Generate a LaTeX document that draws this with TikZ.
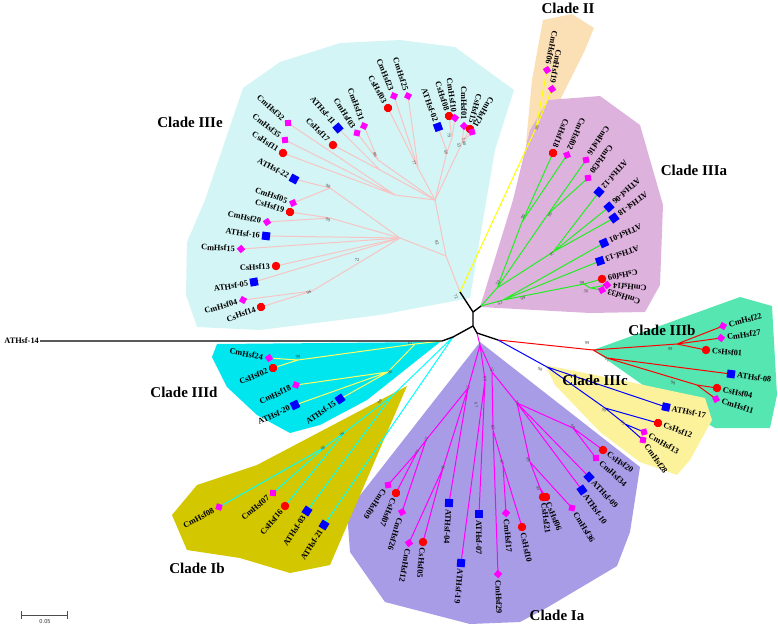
\documentclass[tikz,border=0pt]{standalone}
\usepackage{fontspec}
\setmainfont{Liberation Serif}
\definecolor{bgE}{HTML}{D4F5F5}
\definecolor{bgII}{HTML}{FBE0B6}
\definecolor{bgIIIa}{HTML}{DDB2DD}
\definecolor{bgIIIb}{HTML}{55E6B1}
\definecolor{bgIIIc}{HTML}{FCF29C}
\definecolor{bgIa}{HTML}{A99CE6}
\definecolor{bgIb}{HTML}{D3C700}
\definecolor{bgIIId}{HTML}{00E6EF}
\definecolor{cE}{HTML}{F7C4C4}
\definecolor{cII}{HTML}{FFFF00}
\definecolor{cIIIa}{HTML}{22EE22}
\definecolor{cIIIb}{HTML}{FF0000}
\definecolor{cIIIc}{HTML}{0000FF}
\definecolor{cIa}{HTML}{FF00FF}
\definecolor{cIb}{HTML}{00FFFF}
\definecolor{cIIId}{HTML}{FFFF66}
\definecolor{mkM}{HTML}{FF00FF}
\definecolor{mkR}{HTML}{FF0000}
\definecolor{mkB}{HTML}{0000FF}
\newcommand\mkI[4]{\node[#2,rotate=#3] (m#1) at (#1) {};\node[lbl,rotate=#3+180,anchor=east] (t#1) at (#1) {#4};}
\newcommand\mkO[4]{\node[#2,rotate=#3] (m#1) at (#1) {};\node[lbl,rotate=#3,anchor=west] (t#1) at (#1) {#4};}
\newcommand\bsv[4]{\node[bs,rotate=#3] at (#1,#2) {#4};}
\begin{document}
\begin{tikzpicture}[x=1pt,y=-1pt,
  mg/.style={rectangle,fill=mkM,minimum size=6pt,inner sep=0pt,rotate=45},
  rd/.style={circle,fill=mkR,minimum size=8.5pt,inner sep=0pt},
  bl/.style={rectangle,fill=mkB,minimum size=8pt,inner sep=0pt},
  lbl/.style={font=\fontsize{8.3}{9}\selectfont\bfseries,inner xsep=6pt,inner ysep=0pt},
  bs/.style={font=\fontsize{4.5}{5}\selectfont,text=black!75,inner sep=0pt},
  clade/.style={font=\fontsize{15}{16}\selectfont\bfseries,inner sep=0pt},
  br/.style={line width=1pt},
  blk/.style={line width=1.4pt,black}]
\useasboundingbox (0,0) rectangle (778,627);
% ---------- backgrounds
\fill[bgE] (197,327) -- (186,295) -- (187,242) -- (205,200) -- (243,88) -- (280,62) -- (340,43) -- (400,40) -- (455,47) -- (514,90) -- (495,150) -- (483,220) -- (470,298) -- (380,315) -- (260,330) -- cycle;
\fill[bgII] (543,20) -- (572,14) -- (594,28) -- (585,50) -- (560,100) -- (537,135) -- (526,143) -- (532,80) -- cycle;
\fill[bgIIIa] (480,307) -- (513,200) -- (530,130) -- (548,100) -- (600,96) -- (640,125) -- (663,205) -- (660,285) -- (645,312) -- (590,313) -- cycle;
\fill[bgIIIb] (593,350) -- (740,297) -- (772,306) -- (777,395) -- (770,428) -- (715,428) -- (650,390) -- cycle;
\fill[bgIIIc] (545,365) -- (620,380) -- (705,398) -- (712,420) -- (690,460) -- (677,475) -- (640,462) -- (600,432) -- (555,385) -- cycle;
\fill[bgIa] (480,342) -- (640,467) -- (630,532) -- (617,566) -- (548,607) -- (520,622) -- (470,624) -- (385,602) -- (350,552) -- (347,512) -- cycle;
\fill[bgIb] (407,386) -- (257,465) -- (197,485) -- (172,515) -- (187,550) -- (240,558) -- (290,573) -- (330,565) -- cycle;
\fill[bgIIId] (217,344) -- (440,342) -- (367,400) -- (320,425) -- (290,433) -- (257,415) -- (227,387) -- (212,357) -- cycle;
% ---------- internal nodes
\coordinate (c0) at (473,312); \coordinate (c1) at (473,326); \coordinate (c2) at (477,333);
\coordinate (c3) at (453,337); \coordinate (c4) at (442,341); \coordinate (c5) at (498,340);
\coordinate (eII) at (460,292); \coordinate (a14) at (40,341);
% IIIe
\coordinate (e1) at (446,256); \coordinate (e2) at (400,238); \coordinate (e3) at (312,291);
\coordinate (e4) at (330,218); \coordinate (e5) at (330,188); \coordinate (e6) at (435,200);
\coordinate (e7) at (395,195); \coordinate (e8) at (380,170); \coordinate (e9) at (378,160);
\coordinate (e10) at (418,168); \coordinate (e11) at (447,152); \coordinate (e12) at (452,138);
\coordinate (e13) at (462,143);
% II
\coordinate (f1) at (536,128);
% IIIa
\coordinate (g0) at (481,306); \coordinate (g1) at (497,288); \coordinate (g2) at (522,222);
\coordinate (g3) at (548,214); \coordinate (g4) at (553,252); \coordinate (g5) at (503,300);
\coordinate (g6) at (584,284); \coordinate (g7) at (590,288);
% IIIb
\coordinate (b0) at (593,350); \coordinate (b1) at (677,344); \coordinate (b2) at (607,358); \coordinate (b3) at (697,385);
% IIIc
\coordinate (k0) at (547,367); \coordinate (k1) at (605,408); \coordinate (k2) at (625,424);
% Ia
\coordinate (i0) at (480,345); \coordinate (i1) at (492,372); \coordinate (i2) at (517,403);
\coordinate (i3) at (573,428); \coordinate (i4) at (530,462); \coordinate (i5) at (540,488);
\coordinate (i6) at (493,430); \coordinate (i7) at (503,465); \coordinate (i8) at (485,380);
\coordinate (i9) at (468,388); \coordinate (i11) at (426,440); \coordinate (i12) at (417,452);
\coordinate (i13) at (443,468);
% Ib
\coordinate (j0) at (392,396); \coordinate (j1) at (345,432); \coordinate (j2) at (325,447);
% IIId
\coordinate (d0) at (415,344); \coordinate (d1) at (298,360); \coordinate (d2) at (388,372);
% ---------- leaves
\coordinate (CmHsf32) at (288,123); \coordinate (CmHsf35) at (285,140); \coordinate (CsHsf11) at (283,153);
\coordinate (ATHsf22) at (294,179); \coordinate (CmHsf05) at (293,203); \coordinate (CsHsf19) at (290,212);
\coordinate (CmHsf20) at (267,222); \coordinate (ATHsf16) at (266,236); \coordinate (CmHsf15) at (241,249);
\coordinate (CsHsf13) at (276,266); \coordinate (ATHsf05) at (254,282); \coordinate (CmHsf04) at (243,300);
\coordinate (CsHsf14) at (261,307); \coordinate (ATHsf11) at (338,128); \coordinate (CsHsf17) at (333,145);
\coordinate (CmHsf03) at (357,133); \coordinate (CmHsf31) at (364,126); \coordinate (CsHsf03) at (388,108);
\coordinate (CmHsf23) at (394,96); \coordinate (CmHsf25) at (408,96); \coordinate (ATHsf02) at (438,127);
\coordinate (CsHsf08) at (449,116); \coordinate (CmHsf10) at (455,118); \coordinate (CmHsf01) at (464,126);
\coordinate (CsHsf15) at (470,129); \coordinate (CmHsf21) at (472,132);
\coordinate (CmHsf06) at (547,70); \coordinate (CmHsf19) at (552,89);
\coordinate (CsHsf18) at (553,153); \coordinate (CmHsf02) at (567,155); \coordinate (CmHsf16) at (586,160);
\coordinate (CmHsf30) at (588,178); \coordinate (ATHsf12) at (599,192); \coordinate (ATHsf06) at (609,207);
\coordinate (ATHsf18) at (614,218); \coordinate (ATHsf01) at (604,243); \coordinate (ATHsf13) at (600,261);
\coordinate (CsHsf09) at (602,279); \coordinate (CmHsf14) at (607,285); \coordinate (CmHsf33) at (602,290);
\coordinate (CmHsf22) at (723,326); \coordinate (CmHsf27) at (721,338); \coordinate (CsHsf01) at (706,350);
\coordinate (ATHsf08) at (731,374); \coordinate (CsHsf04) at (717,388); \coordinate (CmHsf11) at (716,399);
\coordinate (ATHsf17) at (666,407); \coordinate (CsHsf12) at (658,423); \coordinate (CmHsf13) at (644,432);
\coordinate (CmHsf28) at (643,440);
\coordinate (CsHsf20) at (603,450); \coordinate (CmHsf34) at (596,458); \coordinate (ATHsf09) at (589,477);
\coordinate (ATHsf10) at (582,490); \coordinate (CmHsf36) at (572,508); \coordinate (CsHsf06) at (546,497);
\coordinate (CsHsf21) at (543,497); \coordinate (CsHsf10) at (522,527); \coordinate (CmHsf17) at (506,513);
\coordinate (CmHsf29) at (498,574); \coordinate (ATHsf07) at (479,514); \coordinate (ATHsf19) at (461,563);
\coordinate (ATHsf04) at (449,503); \coordinate (CsHsf05) at (423,542); \coordinate (CmHsf12) at (409,543);
\coordinate (CmHsf26) at (402,512); \coordinate (CsHsf07) at (396,493); \coordinate (CmHsf09) at (388,485);
\coordinate (CmHsf08) at (219,507); \coordinate (CmHsf07) at (273,493); \coordinate (CsHsf16) at (285,506);
\coordinate (ATHsf03) at (307,511); \coordinate (ATHsf21) at (324,525);
\coordinate (CmHsf24) at (269,358); \coordinate (CsHsf02) at (273,368); \coordinate (CmHsf18) at (296,385);
\coordinate (ATHsf20) at (295,405); \coordinate (ATHsf15) at (340,399);
% ---------- branches
\draw[br,cE] (eII) -- (e1) (e1) -- (e2) (e1) -- (e6);
\foreach \c in {e3,e4,e5,ATHsf16,CmHsf15,CsHsf13,ATHsf05} \draw[br,cE] (e2) -- (\c);
\draw[br,cE] (e3) -- (CmHsf04) (e3) -- (CsHsf14) (e4) -- (CsHsf19) (e4) -- (CmHsf20) (e5) -- (ATHsf22) (e5) -- (CmHsf05);
\foreach \c in {e7,e8,e9,e10,e11,e13} \draw[br,cE] (e6) -- (\c);
\draw[br,cE] (e7) -- (CmHsf32) (e7) -- (CmHsf35) (e7) -- (CsHsf11) (e8) -- (ATHsf11) (e8) -- (CsHsf17)
  (e9) -- (CmHsf03) (e9) -- (CmHsf31) (e10) -- (CsHsf03) (e10) -- (CmHsf23) (e10) -- (CmHsf25)
  (e11) -- (ATHsf02) (e11) -- (e12) (e12) -- (CsHsf08) (e12) -- (CmHsf10)
  (e13) -- (CmHsf01) (e13) -- (CsHsf15) (e13) -- (CmHsf21);
\draw[br,cII] (eII) -- (f1) (f1) -- (CmHsf06) (f1) -- (CmHsf19);
\draw[br,cIIIa] (g0) -- (g1) (g0) -- (g5) (g1) -- (g2) (g1) -- (g3) (g1) -- (g4)
  (g2) -- (CsHsf18) (g2) -- (CmHsf02) (g3) -- (CmHsf16) (g3) -- (CmHsf30)
  (g4) -- (ATHsf12) (g4) -- (ATHsf06) (g4) -- (ATHsf18) (g5) -- (ATHsf01) (g5) -- (ATHsf13)
  (g5) -- (g6) (g6) -- (CsHsf09) (g6) -- (g7) (g7) -- (CmHsf14) (g7) -- (CmHsf33);
\draw[br,cIIIb] (c5) -- (b0) (b0) -- (b1) (b0) -- (b2) (b1) -- (CmHsf22) (b1) -- (CmHsf27) (b1) -- (CsHsf01)
  (b2) -- (ATHsf08) (b2) -- (b3) (b3) -- (CsHsf04) (b3) -- (CmHsf11);
\draw[br,cIIIc] (c5) -- (k0) (k0) -- (ATHsf17) (k0) -- (k1) (k1) -- (CsHsf12) (k1) -- (k2) (k2) -- (CmHsf13) (k2) -- (CmHsf28);
\draw[br,cIa] (c2) -- (i0) (i0) -- (i1) (i0) -- (i8) (i0) -- (i9) (i1) -- (i2) (i1) -- (i6)
  (i2) -- (i3) (i3) -- (CsHsf20) (i3) -- (CmHsf34) (i2) -- (ATHsf09) (i2) -- (ATHsf10) (i2) -- (i4)
  (i4) -- (CmHsf36) (i4) -- (i5) (i5) -- (CsHsf06) (i5) -- (CsHsf21)
  (i6) -- (i7) (i7) -- (CmHsf17) (i7) -- (CsHsf10) (i6) -- (CmHsf29)
  (i8) -- (ATHsf07) (i8) -- (ATHsf19)
  (i9) -- (i11) (i11) -- (i12) (i12) -- (CmHsf09) (i12) -- (CsHsf07) (i11) -- (CmHsf26)
  (i9) -- (i13) (i13) -- (CmHsf12) (i13) -- (CsHsf05) (i9) -- (ATHsf04);
\draw[br,cIb] (c3) -- (j0) (c3) -- (ATHsf21) (j0) -- (j1) (j0) -- (ATHsf03) (j1) -- (j2) (j1) -- (CsHsf16)
  (j2) -- (CmHsf08) (j2) -- (CmHsf07);
\draw[br,cIIId] (c4) -- (d0) (d0) -- (d1) (d0) -- (d2) (d1) -- (CmHsf24) (d1) -- (CsHsf02)
  (d2) -- (CmHsf18) (d2) -- (ATHsf20) (d2) -- (ATHsf15);
\draw[blk] (a14) -- (c4) -- (c3) -- (c1) -- (c0) -- (eII);
\draw[blk] (c0) -- (g0) (c1) -- (c2) -- (c5);
% ---------- markers and labels
\mkI{CmHsf32}{mg}{138}{CmHsf32} \mkI{CmHsf35}{mg}{142}{CmHsf35} \mkI{CsHsf11}{rd}{147}{CsHsf11}
\mkI{ATHsf22}{bl}{152}{ATHsf-22} \mkI{CmHsf05}{mg}{160}{CmHsf05} \mkI{CsHsf19}{rd}{163}{CsHsf19}
\mkI{CmHsf20}{mg}{168}{CmHsf20} \mkI{ATHsf16}{bl}{173}{ATHsf-16} \mkI{CmHsf15}{mg}{177}{CmHsf15}
\mkI{CsHsf13}{rd}{183}{CsHsf13} \mkI{ATHsf05}{bl}{190}{ATHsf-05} \mkI{CmHsf04}{mg}{196}{CmHsf04}
\mkI{CsHsf14}{rd}{200}{CsHsf14} \mkI{ATHsf11}{bl}{130}{ATHsf-11} \mkI{CsHsf17}{rd}{135}{CsHsf17}
\mkI{CmHsf03}{mg}{122}{CmHsf03} \mkI{CmHsf31}{mg}{110}{CmHsf31} \mkI{CsHsf03}{rd}{119}{CsHsf03}
\mkI{CmHsf23}{mg}{112}{CmHsf23} \mkI{CmHsf25}{mg}{108}{CmHsf25} \mkI{ATHsf02}{bl}{110}{ATHsf-02}
\mkI{CsHsf08}{rd}{108}{CsHsf08} \mkI{CmHsf10}{mg}{98}{CmHsf10} \mkI{CmHsf01}{mg}{90}{CmHsf01}
\mkI{CsHsf15}{rd}{75}{CsHsf15} \mkI{CmHsf21}{mg}{60}{CmHsf21}
\mkI{CmHsf06}{mg}{78}{CmHsf06} \mkI{CmHsf19}{mg}{80}{CmHsf19}
\mkI{CsHsf18}{rd}{68}{CsHsf18} \mkI{CmHsf02}{mg}{66}{CmHsf02} \mkI{CmHsf16}{mg}{57}{CmHsf16}
\mkI{CmHsf30}{mg}{54}{CmHsf30} \mkI{ATHsf12}{bl}{48}{ATHsf-12} \mkI{ATHsf06}{bl}{42}{ATHsf-06}
\mkI{ATHsf18}{bl}{36}{ATHsf-18} \mkI{ATHsf01}{bl}{24}{ATHsf-01} \mkI{ATHsf13}{bl}{18}{ATHsf-13}
\mkI{CsHsf09}{rd}{10}{CsHsf09} \mkI{CmHsf14}{mg}{-5}{CmHsf14} \mkI{CmHsf33}{mg}{-18}{CmHsf33}
\mkO{CmHsf22}{mg}{15}{CmHsf22} \mkO{CmHsf27}{mg}{8}{CmHsf27} \mkO{CsHsf01}{rd}{-5}{CsHsf01}
\mkO{ATHsf08}{bl}{-8}{ATHsf-08} \mkO{CsHsf04}{rd}{-12}{CsHsf04} \mkO{CmHsf11}{mg}{-18}{CmHsf11}
\mkO{ATHsf17}{bl}{-12}{ATHsf-17} \mkO{CsHsf12}{rd}{-20}{CsHsf12} \mkO{CmHsf13}{mg}{-30}{CmHsf13}
\mkO{CmHsf28}{mg}{-55}{CmHsf28}
\mkO{CsHsf20}{rd}{-35}{CsHsf20} \mkO{CmHsf34}{mg}{-42}{CmHsf34} \mkO{ATHsf09}{bl}{-47}{ATHsf-09}
\mkO{ATHsf10}{bl}{-55}{ATHsf-10} \mkO{CmHsf36}{mg}{-58}{CmHsf36} \mkO{CsHsf06}{rd}{-68}{CsHsf06}
\mkO{CsHsf21}{rd}{-82}{CsHsf21} \mkO{CsHsf10}{rd}{-78}{CsHsf10} \mkO{CmHsf17}{mg}{-85}{CmHsf17}
\mkO{CmHsf29}{mg}{-88}{CmHsf29} \mkO{ATHsf07}{bl}{-90}{ATHsf-07} \mkO{ATHsf19}{bl}{-95}{ATHsf-19}
\mkO{ATHsf04}{bl}{-93}{ATHsf-04} \mkO{CsHsf05}{rd}{-95}{CsHsf05} \mkO{CmHsf12}{mg}{-100}{CmHsf12}
\mkO{CmHsf26}{mg}{-107}{CmHsf26} \mkO{CsHsf07}{rd}{-112}{CsHsf07} \mkO{CmHsf09}{mg}{-124}{CmHsf09}
\mkI{CmHsf08}{mg}{208}{CmHsf08} \mkI{CmHsf07}{mg}{220}{CmHsf07} \mkI{CsHsf16}{rd}{230}{CsHsf16}
\mkI{ATHsf03}{bl}{237}{ATHsf-03} \mkI{ATHsf21}{bl}{238}{ATHsf-21}
\mkI{CmHsf24}{mg}{170}{CmHsf24} \mkI{CsHsf02}{rd}{203}{CsHsf02} \mkI{CmHsf18}{mg}{205}{CmHsf18}
\mkI{ATHsf20}{bl}{205}{ATHsf-20} \mkI{ATHsf15}{bl}{215}{ATHsf-15}
\node[lbl,anchor=east,inner xsep=1pt] (tATHsf14) at (a14) {ATHsf-14};
% ---------- bootstrap values
\bsv{328}{186}{-30}{98} \bsv{328}{220}{-15}{99} \bsv{357}{260}{0}{72} \bsv{309}{292}{15}{96}
\bsv{375}{155}{-60}{86} \bsv{414}{163}{-70}{77} \bsv{446}{152}{-80}{50} \bsv{449}{135}{-80}{79}
\bsv{459}{145}{-80}{55} \bsv{464}{142}{-80}{100} \bsv{437}{243}{-60}{82}
\bsv{456}{297}{-60}{72}
\bsv{537}{128}{70}{99}
\bsv{500}{303}{20}{53} \bsv{498}{283}{60}{52} \bsv{523}{298}{15}{99} \bsv{552}{254}{35}{97}
\bsv{550}{215}{55}{96} \bsv{523}{217}{65}{96} \bsv{582}{283}{5}{99} \bsv{586}{291}{-10}{56}
\bsv{587}{343}{0}{99} \bsv{607}{360}{-15}{71} \bsv{670}{349}{0}{99} \bsv{673}{383}{-15}{98}
\bsv{540}{369}{-30}{98} \bsv{604}{410}{-30}{99} \bsv{623}{423}{-40}{92}
\bsv{492}{370}{-70}{52} \bsv{485}{379}{-85}{96} \bsv{468}{388}{-100}{57} \bsv{476}{405}{-90}{67}
\bsv{517}{403}{-60}{76} \bsv{573}{427}{-35}{99} \bsv{493}{427}{-80}{83} \bsv{417}{452}{-120}{51}
\bsv{426}{439}{-120}{57} \bsv{443}{468}{-100}{96} \bsv{502}{462}{-80}{67} \bsv{528}{460}{-60}{99}
\bsv{538}{488}{-80}{99}
\bsv{380}{402}{55}{99} \bsv{342}{434}{35}{94} \bsv{323}{448}{30}{88}
\bsv{410}{343}{0}{63} \bsv{298}{357}{10}{99} \bsv{390}{372}{35}{88}
% ---------- clade labels
\node[clade] (lIIIe) at (190,122) {Clade IIIe};
\node[clade] (lII) at (568,8) {Clade II};
\node[clade] (lIIIa) at (694,170) {Clade IIIa};
\node[clade] (lIIIb) at (662,330) {Clade IIIb};
\node[clade] (lIIIc) at (595,380) {Clade IIIc};
\node[clade] (lIa) at (557,615) {Clade Ia};
\node[clade] (lIb) at (197,568) {Clade Ib};
\node[clade] (lIIId) at (184,392) {Clade IIId};
% ---------- scale bar
\coordinate (sb1) at (21,615); \coordinate (sb2) at (68,615);
\draw[black!70,line width=0.8pt,{|-|}] (sb1) -- (sb2);
\node[font=\fontsize{6}{6}\sffamily,text=black!80,inner sep=0pt] (sbl) at (45,622) {0.05};
\end{tikzpicture}
\end{document}
